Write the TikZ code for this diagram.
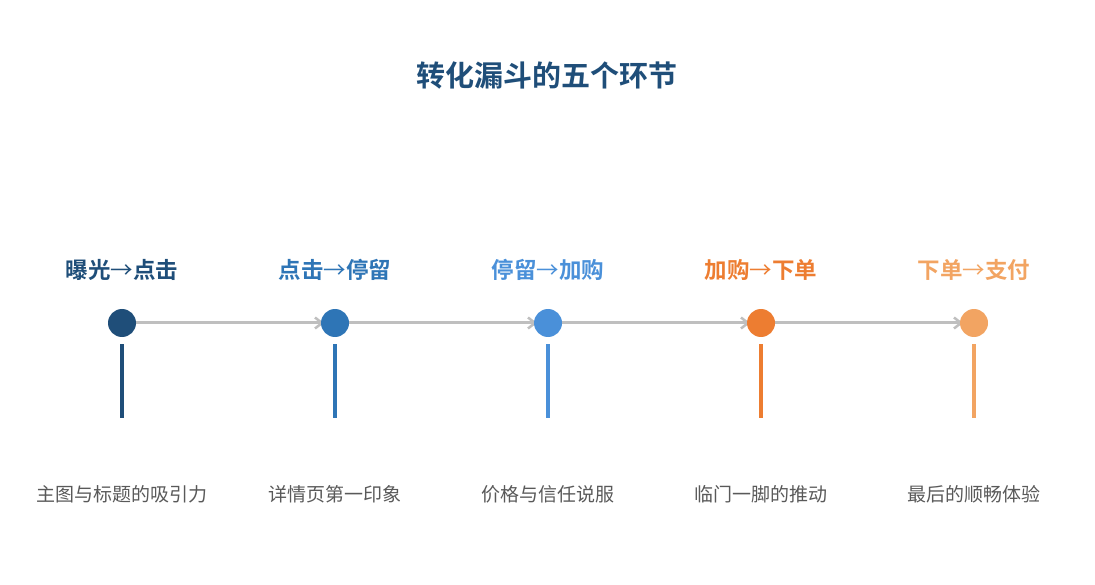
\documentclass[tikz,border=0pt]{standalone}
\usepackage{fontspec}
\setmainfont{Noto Sans CJK SC}
\newfontfamily\cjkb{Noto Sans CJK SC Bold}
\newfontfamily\cjkr{Noto Sans CJK SC}
\newcommand\stagearrow{{\cjkr →}}
\usetikzlibrary{arrows.meta,backgrounds}
\definecolor{cA}{HTML}{1F4E79}
\definecolor{cB}{HTML}{2E75B6}
\definecolor{cC}{HTML}{4A90D9}
\definecolor{cD}{HTML}{ED7D31}
\definecolor{cE}{HTML}{F2A462}
\definecolor{lineg}{HTML}{BFBFBF}
\definecolor{txtg}{HTML}{595959}
\tikzset{
  dot/.style={circle,fill=#1,minimum size=28pt,inner sep=0pt},
  stagelabel/.style={text=#1,font=\cjkb\fontsize{22.5}{25}\selectfont,inner sep=0pt},
  desc/.style={text=txtg,font=\fontsize{19}{22}\selectfont,inner sep=0pt},
  stem/.style={draw=#1,line width=3.5pt},
  flow/.style={draw=lineg,line width=3pt,-{Straight Barb[length=7pt,width=11pt,line width=2.5pt]},shorten <=14pt,shorten >=11pt},
}
\begin{document}
\begin{tikzpicture}[x=1pt,y=1pt]
\useasboundingbox (0,0) rectangle (1095,-585);
\node[text=cA,font=\cjkb\fontsize{29}{32}\selectfont,inner sep=0pt] (title) at (547,-75) {转化漏斗的五个环节};
\foreach \i/\x/\c/\la/\lb/\d in {1/122/cA/曝光/点击/主图与标题的吸引力,2/335/cB/点击/停留/详情页第一印象,3/548/cC/停留/加购/价格与信任说服,4/761/cD/加购/下单/临门一脚的推动,5/974/cE/下单/支付/最后的顺畅体验}{
  \node[dot=\c] (c\i) at (\x,-323) {};
  \node[stagelabel=\c] (l\i) at (\x,-270) {\la\stagearrow\lb};
  \node[desc] (d\i) at (\x,-494) {\d};
  \coordinate (s\i) at (\x,-344);
  \coordinate (e\i) at (\x,-418);
  \draw[stem=\c] (s\i) -- (e\i);
}
\begin{scope}[on background layer]
\foreach \a/\b in {1/2,2/3,3/4,4/5}{
  \draw[flow] (c\a.center) -- (c\b.center);
}
\end{scope}
\end{tikzpicture}
\end{document}
